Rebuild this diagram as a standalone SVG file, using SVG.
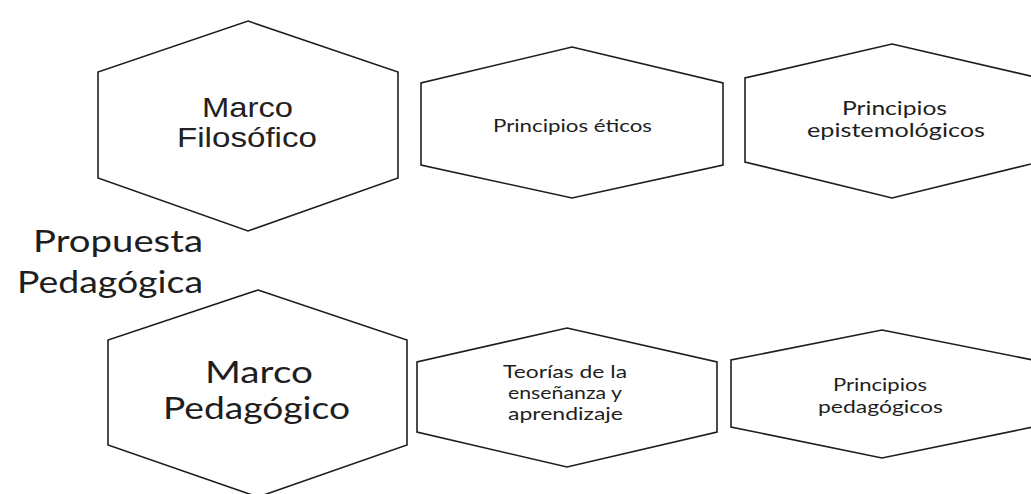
<svg xmlns="http://www.w3.org/2000/svg" width="1031" height="494" viewBox="0 0 1031 494">
<style>
.hex{fill:#ffffff;stroke:#1e1e1e;stroke-width:1.6;stroke-linejoin:miter}
.a{font-family:"Liberation Sans",Arial,sans-serif;fill:#222}
.c{font-family:Lato,"Open Sans",sans-serif;fill:#1e1e1e}
</style>
<rect width="1031" height="494" fill="#ffffff"/>
<g id="connectors"></g>
<g id="title">
<text class="c" x="33" y="252" font-size="31" textLength="170" lengthAdjust="spacingAndGlyphs">Propuesta</text>
<text class="c" x="17" y="293" font-size="31" textLength="186" lengthAdjust="spacingAndGlyphs">Pedagógica</text>
</g>
<g id="marco-filosofico">
<polygon class="hex" points="248,21 398,72 398,178 248,231 98,178 98,72"/>
<text class="a" x="202" y="117" font-size="28" textLength="91" lengthAdjust="spacingAndGlyphs">Marco</text>
<text class="a" x="177" y="147" font-size="28" textLength="140" lengthAdjust="spacingAndGlyphs">Filosófico</text>
</g>
<g id="principios-eticos">
<polygon class="hex" points="572,47 723,83 723,165 572,198 421,165 421,83"/>
<text class="c" x="493" y="132" font-size="17" textLength="159" lengthAdjust="spacingAndGlyphs">Principios éticos</text>
</g>
<g id="principios-epistemologicos">
<polygon class="hex" points="892,44 1039,78 1039,162 892,198 745,162 745,78"/>
<text class="c" x="842" y="115" font-size="19" textLength="105" lengthAdjust="spacingAndGlyphs">Principios</text>
<text class="c" x="807" y="137" font-size="19" textLength="178" lengthAdjust="spacingAndGlyphs">epistemológicos</text>
</g>
<g id="marco-pedagogico">
<polygon class="hex" points="258,290 407,340 407,445 258,497 108,445 108,340"/>
<text class="c" x="205" y="383" font-size="30" textLength="108" lengthAdjust="spacingAndGlyphs">Marco</text>
<text class="c" x="163" y="419" font-size="30" textLength="187" lengthAdjust="spacingAndGlyphs">Pedagógico</text>
</g>
<g id="teorias">
<polygon class="hex" points="567,328 717,362 717,432 567,467 417,432 417,362"/>
<text class="c" x="503" y="378" font-size="17" textLength="124" lengthAdjust="spacingAndGlyphs">Teorías de la</text>
<text class="c" x="508" y="399" font-size="17" textLength="114" lengthAdjust="spacingAndGlyphs">enseñanza y</text>
<text class="c" x="508" y="420" font-size="17" textLength="115" lengthAdjust="spacingAndGlyphs">aprendizaje</text>
</g>
<g id="principios-pedagogicos">
<polygon class="hex" points="882,330 1033,360 1033,427 882,458 731,427 731,360"/>
<text class="c" x="833" y="391" font-size="17" textLength="94" lengthAdjust="spacingAndGlyphs">Principios</text>
<text class="c" x="818" y="413" font-size="17" textLength="125" lengthAdjust="spacingAndGlyphs">pedagógicos</text>
</g>
</svg>
